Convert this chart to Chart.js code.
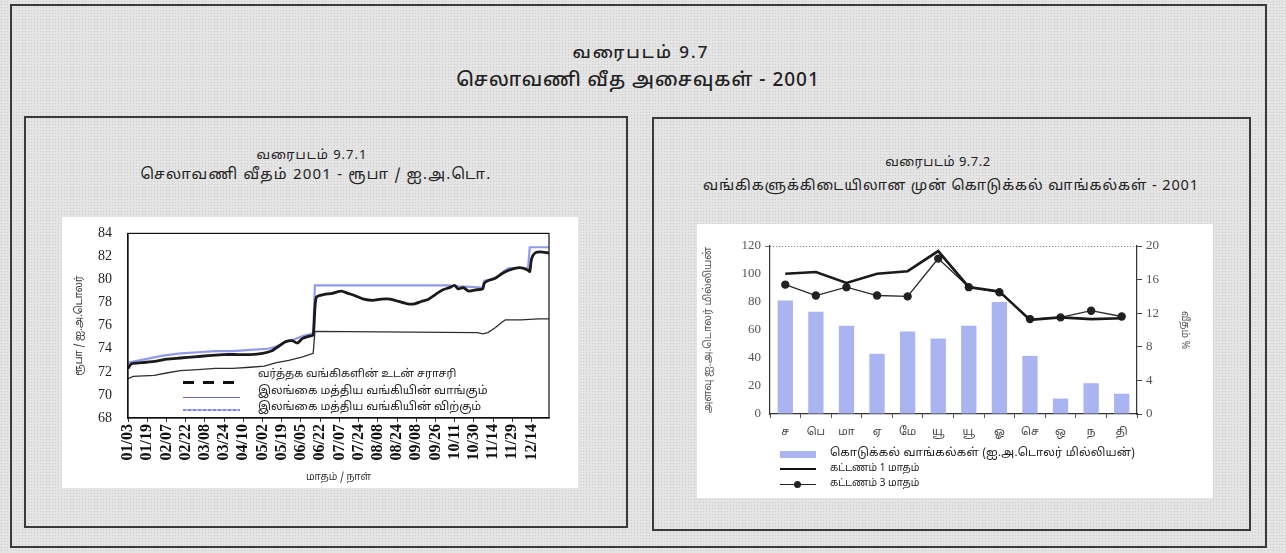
<!DOCTYPE html>
<html>
<head>
<meta charset="utf-8">
<script src="https://cdn.jsdelivr.net/npm/chart.js@4.4.1/dist/chart.umd.min.js"></script>
<style>
  html,body{margin:0;padding:0;}
  body{width:1286px;height:553px;position:relative;overflow:hidden;
    background-color:#e4e4e4;
    background-image:radial-gradient(#cdcdcd 0.7px, transparent 0.9px);
    background-size:3px 3px;
    font-family:"Noto Sans Tamil","Lohit Tamil","Noto Sans","DejaVu Sans",sans-serif;color:#222;}
  .abs{position:absolute;}
  .frame{position:absolute;border:2px solid #3a3a3a;box-sizing:border-box;}
  .white{position:absolute;background:#fff;}
  .t{position:absolute;white-space:nowrap;text-align:center;transform:translateX(-50%);line-height:1;}
  .lg{position:absolute;white-space:nowrap;line-height:1;}
</style>
</head>
<body>
<div class="frame" style="left:10px;top:4px;width:1257px;height:544px;"></div>
<div class="frame" style="left:24px;top:116px;width:604px;height:412px;"></div>
<div class="frame" style="left:652px;top:117px;width:599px;height:414px;"></div>

<div class="t" style="left:641px;top:45px;font-size:17px;letter-spacing:2px;font-weight:500;">வரைபடம் 9.7</div>
<div class="t" style="left:638px;top:72px;font-size:19px;letter-spacing:1px;font-weight:500;">செலாவணி வீத அசைவுகள் - 2001</div>

<div class="t" style="left:312px;top:150px;font-size:13px;letter-spacing:1px;">வரைபடம் 9.7.1</div>
<div class="t" style="left:316px;top:168px;font-size:15px;letter-spacing:1.2px;">செலாவணி வீதம் 2001 - ரூபா / ஐ.அ.டொ.</div>

<div class="t" style="left:938px;top:157px;font-size:13px;letter-spacing:0.5px;">வரைபடம் 9.7.2</div>
<div class="t" style="left:951px;top:179px;font-size:14.5px;letter-spacing:0.9px;">வங்கிகளுக்கிடையிலான முன் கொடுக்கல் வாங்கல்கள் - 2001</div>

<div class="white" style="left:62px;top:217px;width:516px;height:271px;">
  <canvas id="c1"></canvas>
</div>
<div class="white" style="left:697px;top:224px;width:516px;height:274px;">
  <canvas id="c2"></canvas>
</div>

<!-- left legend -->
<div class="abs" style="left:183px;top:381px;width:52px;height:3px;background:repeating-linear-gradient(90deg,#111 0 11px,transparent 11px 20px);"></div>
<div class="abs" style="left:183px;top:397px;width:57px;height:1px;background:#6a6fcf;"></div>
<div class="abs" style="left:183px;top:409px;width:57px;height:2px;background:repeating-linear-gradient(90deg,#7d88de 0 3px,#b9c0ee 3px 5px);"></div>
<div class="lg" style="left:258px;top:369px;font-size:11px;letter-spacing:0px;">வர்த்தக வங்கிகளின் உடன் சராசரி</div>
<div class="lg" style="left:258px;top:386px;font-size:11.5px;letter-spacing:0px;">இலங்கை மத்திய வங்கியின் வாங்கும்</div>
<div class="lg" style="left:258px;top:402px;font-size:11.5px;letter-spacing:0px;">இலங்கை மத்திய வங்கியின் விற்கும்</div>

<!-- right legend -->
<div class="abs" style="left:780px;top:451px;width:36px;height:7px;background:#a9b4f1;"></div>
<div class="abs" style="left:780px;top:468px;width:36px;height:2px;background:#111;"></div>
<div class="abs" style="left:780px;top:484px;width:36px;height:1px;background:#222;"></div>
<div class="abs" style="left:794px;top:481px;width:7px;height:7px;border-radius:50%;background:#222;"></div>
<div class="lg" style="left:830px;top:448px;font-size:11.5px;letter-spacing:0.2px;">கொடுக்கல் வாங்கல்கள் (ஐ.அ.டொலர் மில்லியன்)</div>
<div class="lg" style="left:830px;top:464px;font-size:10px;">கட்டணம் 1 மாதம்</div>
<div class="lg" style="left:830px;top:479px;font-size:10px;">கட்டணம் 3 மாதம்</div>

<script>
// ---------- Chart 9.7.1 data (x = trading-day index; a date label every 11 days) ----------
const dateTicks = ['01/03','01/19','02/07','02/22','03/08','03/24','04/10','05/02','05/19','06/05','06/22',
                   '07/07','07/24','08/08','08/24','09/08','09/26','10/11','10/30','11/14','11/29','12/14'];
const commDay  = [0,2,8,15,22,30,38,46,55,63,70,77,82,87,90,94,97,100,104,106,107,108,112,117,122,126,130,135,140,145,150,155,160,164,168,172,176,180,184,187,189,192,195,199,203,204,206,210,214,218,222,226,229,230,231,233,236,241];
const commRate = [72.3,72.7,72.8,72.9,73.1,73.2,73.3,73.4,73.5,73.5,73.5,73.6,73.8,74.3,74.6,74.7,74.5,74.9,75.1,75.2,77.5,78.5,78.7,78.8,79.0,78.8,78.6,78.3,78.2,78.3,78.3,78.1,77.9,77.9,78.1,78.3,78.7,79.1,79.3,79.5,79.2,79.3,79.0,79.1,79.2,79.7,79.9,80.1,80.5,80.8,81.0,81.0,80.8,80.7,81.8,82.3,82.4,82.3];
const sellDay  = [0,10,20,30,40,50,60,70,80,85,90,95,100,105,106,107,183,190,203,204,208,212,215,218,229,230,241];
const sellRate = [72.8,73.1,73.4,73.6,73.7,73.8,73.8,73.9,74.0,74.2,74.6,74.8,75.1,75.3,75.3,79.5,79.5,79.4,79.3,79.9,80.0,80.3,80.7,81.0,81.0,82.8,82.8];
const buyDay   = [0,3,15,22,30,40,50,60,70,78,85,92,100,106,107,200,203,206,210,214,216,225,235,241];
const buyRate  = [71.4,71.6,71.7,71.9,72.1,72.2,72.3,72.3,72.4,72.5,72.8,73.0,73.3,73.6,75.5,75.4,75.3,75.4,75.8,76.3,76.5,76.5,76.6,76.6];

// ---------- Chart 9.7.2 data ----------
const months     = ['ச','பெ','மா','ஏ','மே','யூ','யூ','ஓ','செ','ஒ','ந','தி'];
const volume     = [81,73,63,43,59,54,63,80,41.5,11,22,14.5];
const rate1Month = [16.7,16.9,15.6,16.7,17.0,19.4,15.1,14.6,11.2,11.5,11.3,11.4];
const rate3Month = [15.4,14.1,15.1,14.1,14.0,18.5,15.1,14.5,11.3,11.5,12.3,11.6];

const pts = (xs, ys) => xs.map((x, i) => ({x: x, y: ys[i]}));
const TAMIL = '"Noto Sans Tamil","Lohit Tamil","Noto Sans","DejaVu Sans",sans-serif';
const SERIF = '"Liberation Serif","DejaVu Serif",serif';

const boxPlugin = {
  id: 'box',
  afterDraw(chart, args, opts) {
    if (!opts.on) return;
    const a = chart.chartArea, c = chart.ctx;
    c.save(); c.strokeStyle = '#111'; c.lineWidth = 1.2;
    c.strokeRect(a.left, a.top, a.right - a.left, a.bottom - a.top);
    c.restore();
  }
};

new Chart(document.getElementById('c1'), {
  type: 'line',
  data: {
    datasets: [
      {label: 'comm', data: pts(commDay, commRate), borderColor: '#1a1a1a', borderWidth: 2.8, pointRadius: 0, tension: 0.25},
      {label: 'sell', data: pts(sellDay, sellRate), borderColor: '#8e9ceb', borderWidth: 2.2, pointRadius: 0, tension: 0},
      {label: 'buy',  data: pts(buyDay, buyRate),   borderColor: '#2e2e2e', borderWidth: 1.3, pointRadius: 0, tension: 0}
    ]
  },
  plugins: [boxPlugin],
  options: {
    responsive: true, maintainAspectRatio: false, animation: false,
    layout: {padding: {left: 0, top: 16, right: 29, bottom: 0}},
    plugins: {legend: {display: false}, tooltip: {enabled: false}, box: {on: true}},
    scales: {
      x: {
        type: 'linear', min: 0, max: 241,
        afterFit: s => { s.height = 70; },
        grid: {drawOnChartArea: false, drawTicks: true, tickLength: 4, color: '#333'},
        border: {color: '#111', width: 1.2},
        ticks: {stepSize: 11, includeBounds: false, autoSkip: false, maxRotation: 90, minRotation: 90,
          padding: 2, color: '#111', font: {family: SERIF, size: 16, weight: 'bold'},
          callback: v => dateTicks[Math.round(v / 11)] || ''},
        title: {display: true, text: 'மாதம் / நாள்', color: '#333', font: {family: TAMIL, size: 10}, padding: {top: 0, bottom: 4}}
      },
      y: {
        min: 68, max: 84,
        afterFit: s => { s.width = 66; },
        grid: {display: false},
        border: {color: '#111', width: 1.2},
        ticks: {stepSize: 2, color: '#222', padding: 8, font: {family: SERIF, size: 14}},
        title: {display: true, text: 'ரூபா / ஐ.அ.டொலர்', color: '#333', font: {family: TAMIL, size: 10}, padding: {top: 12, bottom: 0}}
      }
    }
  }
});

new Chart(document.getElementById('c2'), {
  type: 'bar',
  data: {
    labels: months,
    datasets: [
      {type: 'line', label: '1m', data: rate1Month, yAxisID: 'y1', borderColor: '#1a1a1a', borderWidth: 2.6, pointRadius: 0, order: 1},
      {type: 'line', label: '3m', data: rate3Month, yAxisID: 'y1', borderColor: '#2a2a2a', borderWidth: 1.4, pointRadius: 3.5,
        pointBackgroundColor: '#222', pointBorderColor: '#222', order: 2},
      {type: 'bar', label: 'vol', data: volume, yAxisID: 'y', backgroundColor: '#a9b4f1', barPercentage: 0.5, categoryPercentage: 1, order: 3}
    ]
  },
  options: {
    responsive: true, maintainAspectRatio: false, animation: false,
    layout: {padding: {left: 0, top: 22, right: 10, bottom: 0}},
    plugins: {legend: {display: false}, tooltip: {enabled: false}},
    scales: {
      x: {
        afterFit: s => { s.height = 84; },
        grid: {offset: true, drawOnChartArea: false, drawTicks: true, tickLength: 4, color: '#555'},
        border: {color: '#333', width: 1.2},
        ticks: {color: '#444', padding: 8, font: {family: TAMIL, size: 11}}
      },
      y: {
        position: 'left', min: 0, max: 120,
        afterFit: s => { s.width = 73; },
        grid: {drawTicks: true, tickLength: 5, drawOnChartArea: true,
          color: c => c.tick && c.tick.value === 120 ? '#777' : 'rgba(0,0,0,0)'},
        border: {color: '#333', width: 1.2, dash: [1, 2]},
        ticks: {stepSize: 20, color: '#555', padding: 4, font: {family: SERIF, size: 13}},
        title: {display: true, text: 'அளவு ஐ.அ.டொலர் மில்லியன்', color: '#555', font: {family: TAMIL, size: 10.5}, padding: {top: 6, bottom: 0}}
      },
      y1: {
        position: 'right', min: 0, max: 20,
        afterFit: s => { s.width = 66; },
        grid: {drawOnChartArea: false, drawTicks: true, tickLength: 5, color: '#444'},
        border: {color: '#333', width: 1.2},
        ticks: {stepSize: 2, color: '#555', padding: 4, font: {family: SERIF, size: 13}},
        title: {display: true, text: 'வீதம் %', color: '#555', font: {family: TAMIL, size: 10}, padding: {top: 13, bottom: 0}}
      }
    }
  }
});
</script>
</body>
</html>
